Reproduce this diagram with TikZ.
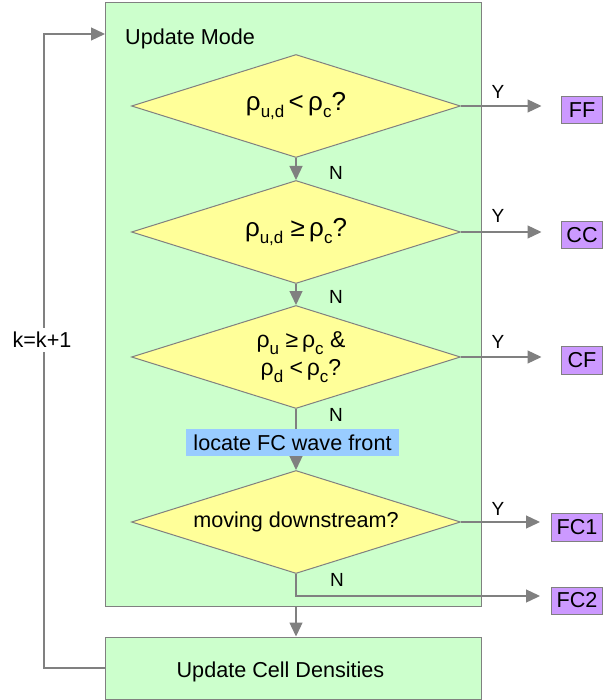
\documentclass[tikz,border=0pt]{standalone}
\usepackage{fontspec}
\setmainfont{Liberation Sans}
\usetikzlibrary{arrows.meta,shapes.geometric,calc}
\definecolor{boxgreen}{HTML}{CCFFCC}
\definecolor{dyellow}{HTML}{FFFF99}
\definecolor{mpurple}{HTML}{CC99FF}
\definecolor{lblue}{HTML}{99CCFF}
\definecolor{lgray}{HTML}{808080}
\newcommand{\msub}[1]{\raisebox{-0.28em}{\fontsize{17}{17}\selectfont #1}}
\begin{document}
\begin{tikzpicture}[x=1pt,y=-1pt,
  every node/.style={font=\fontsize{21.6}{25}\selectfont},
  region/.style={draw=lgray,line width=1pt,fill=boxgreen,rectangle,inner sep=0pt},
  decision/.style={draw=lgray,line width=1pt,fill=dyellow,diamond,aspect=3.19,inner sep=0pt,
    minimum width=329pt,minimum height=103pt,align=center},
  modebox/.style={draw=lgray,line width=1pt,fill=mpurple,rectangle,inner sep=0pt,
    minimum height=27pt,anchor=east},
  lbl/.style={font=\fontsize{19}{21}\selectfont,inner sep=0pt},
  conn/.style={draw=lgray,line width=1.3pt},
  arr/.style={conn,-{Triangle[length=14pt,width=13pt]}}]
\useasboundingbox (0,0) rectangle (605,700);
% regions
\node[region,minimum width=376pt,minimum height=603pt] (mode) at (293,304.5) {};
\node[anchor=west,inner sep=0pt] (modetitle) at (125,39) {Update Mode};
\node[region,minimum width=376pt,minimum height=62pt] (cell) at (293,668) {};
\node[inner sep=0pt] (celltext) at (280.5,672) {Update Cell Densities};
% decisions
\node[decision,font=\fontsize{26}{30}\selectfont] (d1) at (296,106) {ρ\msub{u,d}\,<\,ρ\msub{c}?};
\node[decision,font=\fontsize{26}{30}\selectfont] (d2) at (296,232) {ρ\msub{u,d} ≥\,ρ\msub{c}?};
\node[decision,font=\fontsize{23}{28}\selectfont] (d3) at (296,357) {\hspace*{10pt}ρ\msub{u} ≥\,ρ\msub{c} \&\\\hspace*{10pt}ρ\msub{d} <\,ρ\msub{c}?};
\node[fill=lblue,inner sep=0pt,minimum width=213pt,minimum height=27pt] (loc) at (292.5,442.5) {locate FC wave front};
\node[decision] (d4) at (296,522) {moving downstream?};
% outcome boxes
\node[modebox,minimum width=41pt] (ff) at (603,110.5) {FF};
\node[modebox,minimum width=41pt] (cc) at (603,235.5) {CC};
\node[modebox,minimum width=41pt,minimum height=28pt] (cf) at (603,360) {CF};
\node[modebox,minimum width=51pt,minimum height=28pt] (fc1) at (603,527) {FC1};
\node[modebox,minimum width=51pt] (fc2) at (603,600.5) {FC2};
% arrow ends
\coordinate (e1) at (541.5,106);
\coordinate (e2) at (541.5,232);
\coordinate (e3) at (541.5,357);
\coordinate (e4) at (540,522);
\coordinate (e5) at (540,596);
\coordinate (lp1) at (44,668);
\coordinate (lp2) at (44,34);
\coordinate (lp3) at (105,34);
% connectors
\draw[arr] (d1.east) -- (e1);
\draw[arr] (d2.east) -- (e2);
\draw[arr] (d3.east) -- (e3);
\draw[arr] (d4.east) -- (e4);
\draw[arr] (d1.south) -- (d2.north);
\draw[arr] (d2.south) -- (d3.north);
\draw[conn] (d3.south) -- (d3.south |- loc.north);
\draw[arr] (loc.south -| d4.north) -- (d4.north);
\draw[arr] (d4.south) |- (e5);
\draw[arr] (mode.south -| d4.south) -- (cell.north -| d4.south);
\draw[arr] (cell.west |- lp1) -- (lp1) -- (lp2) -- (lp3);
% labels
\node[lbl] (y1) at (498,92) {Y};
\node[lbl] (y2) at (498,216) {Y};
\node[lbl] (y3) at (498,342) {Y};
\node[lbl] (y4) at (498,509) {Y};
\node[lbl] (n1) at (336,173) {N};
\node[lbl] (n2) at (336,297) {N};
\node[lbl] (n3) at (336,415) {N};
\node[lbl] (n4) at (337,580) {N};
\node[fill=white,inner xsep=0pt,inner ysep=4pt] (kk) at (42,340) {k=k+1};
\end{tikzpicture}
\end{document}
